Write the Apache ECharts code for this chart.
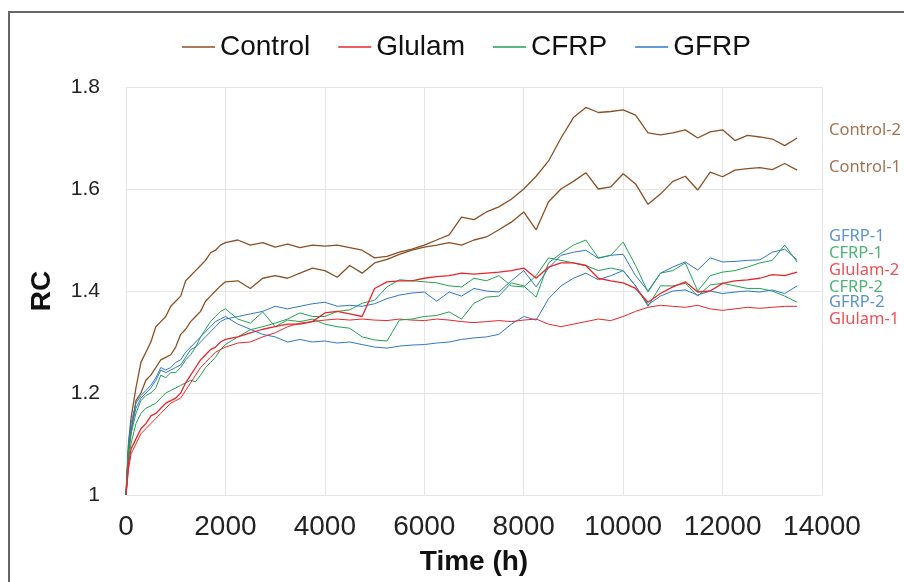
<!DOCTYPE html>
<html>
<head>
<meta charset="utf-8">
<script src="https://cdn.jsdelivr.net/npm/echarts@6/dist/echarts.min.js"></script>
<style>
  html, body { margin: 0; padding: 0; background: #fff; }
  #chart { width: 904px; height: 582px; }
</style>
</head>
<body>
<div id="chart"></div>
<script>
// time axis shared by all eight curves (h)
const hours = [0, 50, 100, 200, 300, 400, 500, 600, 700, 800, 900, 1000, 1100, 1200, 1300, 1400, 1500, 1600, 1700, 1800, 1900, 2000,
  2250, 2500, 2750, 3000, 3250, 3500, 3750, 4000, 4250, 4500, 4750, 5000,
  5250, 5500, 5750, 6000, 6250, 6500, 6750, 7000, 7250, 7500, 7750, 8000,
  8250, 8500, 8750, 9000, 9250, 9500, 9750, 10000, 10250, 10500, 10750, 11000,
  11250, 11500, 11750, 12000, 12250, 12500, 12750, 13000, 13250, 13500];

const control2 = [1.0, 1.10, 1.15, 1.21, 1.26, 1.28, 1.30, 1.33, 1.34, 1.35, 1.37, 1.38, 1.39, 1.42, 1.43, 1.44, 1.45, 1.46, 1.475, 1.48, 1.49, 1.495,
  1.50, 1.49, 1.495, 1.486, 1.492, 1.485, 1.49, 1.488, 1.49, 1.485, 1.48, 1.465,
  1.468, 1.476, 1.482, 1.49, 1.50, 1.51, 1.545, 1.54, 1.555, 1.565, 1.58, 1.60,
  1.625, 1.655, 1.70, 1.74, 1.76, 1.75, 1.752, 1.755, 1.745, 1.71, 1.706, 1.71,
  1.716, 1.70, 1.712, 1.716, 1.695, 1.705, 1.702, 1.698, 1.685, 1.70];
const control1 = [1.0, 1.08, 1.12, 1.185, 1.20, 1.225, 1.235, 1.25, 1.265, 1.27, 1.275, 1.29, 1.315, 1.325, 1.34, 1.35, 1.36, 1.38, 1.39, 1.40, 1.41, 1.418,
  1.42, 1.405, 1.425, 1.43, 1.425, 1.435, 1.445, 1.44, 1.427, 1.45, 1.435, 1.455,
  1.462, 1.472, 1.48, 1.486, 1.49, 1.495, 1.49, 1.50, 1.506, 1.52, 1.535, 1.555,
  1.52, 1.575, 1.60, 1.615, 1.632, 1.60, 1.604, 1.63, 1.61, 1.57, 1.59, 1.615,
  1.625, 1.598, 1.633, 1.624, 1.637, 1.64, 1.642, 1.638, 1.65, 1.637];
const gfrp1 = [1.0, 1.09, 1.13, 1.17, 1.19, 1.20, 1.21, 1.225, 1.245, 1.24, 1.245, 1.25, 1.255, 1.27, 1.285, 1.29, 1.30, 1.31, 1.32, 1.33, 1.34, 1.345,
  1.35, 1.355, 1.36, 1.37, 1.365, 1.37, 1.375, 1.378, 1.37, 1.372, 1.37, 1.375,
  1.385, 1.392, 1.396, 1.398, 1.38, 1.398, 1.39, 1.405, 1.40, 1.398, 1.42, 1.44,
  1.408, 1.445, 1.47, 1.476, 1.48, 1.464, 1.47, 1.472, 1.43, 1.40, 1.435, 1.447,
  1.457, 1.441, 1.465, 1.457, 1.458, 1.46, 1.461, 1.476, 1.482, 1.461];
const gfrp2 = [1.0, 1.10, 1.14, 1.18, 1.195, 1.205, 1.215, 1.23, 1.25, 1.245, 1.25, 1.26, 1.265, 1.28, 1.29, 1.30, 1.31, 1.32, 1.33, 1.34, 1.345, 1.35,
  1.335, 1.325, 1.315, 1.31, 1.30, 1.305, 1.30, 1.302, 1.298, 1.30, 1.295, 1.29,
  1.288, 1.292, 1.294, 1.295, 1.298, 1.30, 1.305, 1.308, 1.31, 1.315, 1.335, 1.35,
  1.343, 1.385, 1.41, 1.425, 1.435, 1.422, 1.43, 1.44, 1.41, 1.373, 1.39, 1.40,
  1.402, 1.392, 1.40, 1.395, 1.398, 1.40, 1.398, 1.402, 1.395, 1.41];
const cfrp1 = [1.0, 1.09, 1.12, 1.16, 1.185, 1.195, 1.20, 1.21, 1.235, 1.23, 1.24, 1.24, 1.25, 1.265, 1.275, 1.29, 1.31, 1.325, 1.34, 1.35, 1.36, 1.365,
  1.345, 1.337, 1.359, 1.33, 1.343, 1.34, 1.345, 1.335, 1.33, 1.327, 1.31, 1.304,
  1.302, 1.343, 1.345, 1.35, 1.352, 1.359, 1.345, 1.376, 1.388, 1.39, 1.416, 1.41,
  1.388, 1.455, 1.474, 1.49, 1.50, 1.465, 1.47, 1.496, 1.45, 1.398, 1.435, 1.44,
  1.455, 1.40, 1.43, 1.437, 1.44, 1.447, 1.455, 1.46, 1.49, 1.457];
const cfrp2 = [1.0, 1.07, 1.10, 1.14, 1.16, 1.17, 1.175, 1.18, 1.19, 1.20, 1.205, 1.21, 1.215, 1.22, 1.225, 1.222, 1.235, 1.25, 1.26, 1.27, 1.285, 1.295,
  1.31, 1.324, 1.33, 1.337, 1.345, 1.357, 1.35, 1.35, 1.36, 1.363, 1.376, 1.382,
  1.408, 1.422, 1.42, 1.418, 1.416, 1.41, 1.408, 1.425, 1.42, 1.43, 1.41, 1.408,
  1.43, 1.465, 1.46, 1.455, 1.45, 1.44, 1.445, 1.44, 1.41, 1.37, 1.41, 1.41,
  1.415, 1.39, 1.412, 1.415, 1.41, 1.405, 1.405, 1.40, 1.39, 1.378];
const glulam2 = [1.0, 1.06, 1.09, 1.11, 1.13, 1.14, 1.155, 1.16, 1.17, 1.18, 1.185, 1.19, 1.20, 1.22, 1.235, 1.25, 1.265, 1.275, 1.285, 1.29, 1.30, 1.305,
  1.31, 1.318, 1.325, 1.33, 1.335, 1.335, 1.34, 1.357, 1.36, 1.355, 1.35, 1.405,
  1.418, 1.42, 1.42, 1.425, 1.428, 1.43, 1.435, 1.433, 1.435, 1.437, 1.44, 1.445,
  1.425, 1.447, 1.455, 1.455, 1.45, 1.425, 1.42, 1.416, 1.405, 1.378, 1.395, 1.408,
  1.418, 1.398, 1.40, 1.415, 1.42, 1.422, 1.425, 1.432, 1.43, 1.437];
const glulam1 = [1.0, 1.05, 1.08, 1.10, 1.12, 1.13, 1.14, 1.15, 1.16, 1.17, 1.18, 1.185, 1.19, 1.205, 1.22, 1.235, 1.25, 1.26, 1.27, 1.28, 1.285, 1.29,
  1.298, 1.30, 1.31, 1.318, 1.33, 1.337, 1.34, 1.343, 1.345, 1.343, 1.345, 1.343,
  1.342, 1.345, 1.343, 1.342, 1.345, 1.343, 1.34, 1.338, 1.34, 1.342, 1.34, 1.343,
  1.345, 1.335, 1.33, 1.335, 1.34, 1.345, 1.342, 1.35, 1.36, 1.368, 1.372, 1.37,
  1.368, 1.372, 1.365, 1.362, 1.365, 1.368, 1.366, 1.368, 1.37, 1.37];

// right-hand curve labels and the RC level they sit at
const labelNames = ["Control-2", "Control-1", "GFRP-1", "CFRP-1", "Glulam-2", "CFRP-2", "GFRP-2", "Glulam-1"];
const labelLevels = [1.716, 1.643, 1.508, 1.474, 1.441, 1.408, 1.378, 1.344];
const groups = ["Control", "Glulam", "CFRP", "GFRP"];

const colors = { Control: "#8b5024", Glulam: "#e8262a", CFRP: "#22a152", GFRP: "#2f78c4" };
const groupOf = (name) => name.split("-")[0];
const pairs = (vals) => hours.map((h, i) => [h, vals[i]]);

const curves = [
  ["Control", control1, 1.3], ["Control", control2, 1.3],
  ["CFRP", cfrp2, 1], ["GFRP", gfrp2, 1], ["Glulam", glulam1, 1],
  ["GFRP", gfrp1, 1], ["CFRP", cfrp1, 1], ["Glulam", glulam2, 1.3],
];

const chart = echarts.init(document.getElementById("chart"));
chart.setOption({
  animation: false,
  backgroundColor: "#fff",
  textStyle: { fontFamily: "Liberation Sans, Arial, sans-serif" },
  graphic: [{
    type: "rect", silent: true,
    shape: { x: 9, y: 12, width: 1000, height: 1000 },
    style: { fill: "none", stroke: "#666", lineWidth: 2 },
  }],
  legend: {
    data: groups,
    left: 177, top: 28,
    icon: "rect", itemWidth: 33, itemHeight: 1.5, itemGap: 28,
    textStyle: { fontSize: 28, color: "#111" },
  },
  grid: { left: 126, right: 82, top: 87, bottom: 87 },
  xAxis: {
    type: "value", min: 0, max: 14000, interval: 2000,
    name: "Time (h)", nameLocation: "middle", nameGap: 53,
    nameTextStyle: { fontSize: 28, fontWeight: "bold", color: "#111" },
    axisLine: { show: false }, axisTick: { show: false },
    axisLabel: { fontSize: 28, color: "#222", margin: 18, formatter: (v) => String(v) },
    splitLine: { lineStyle: { color: "#e6e6e6" } },
  },
  yAxis: {
    type: "value", min: 1, max: 1.8, interval: 0.2,
    name: "RC", nameLocation: "middle", nameGap: 70,
    nameTextStyle: { fontSize: 28, fontWeight: "bold", color: "#111" },
    axisLine: { show: false }, axisTick: { show: false },
    axisLabel: { fontSize: 21, color: "#222", margin: 26 },
    splitLine: { lineStyle: { color: "#e6e6e6" } },
  },
  series: [
    ...curves.map(([name, vals, w]) => ({
      name, type: "line", data: pairs(vals), showSymbol: false, symbol: "none",
      color: colors[name], lineStyle: { width: w, color: colors[name] },
    })),
    {
      name: "labels", type: "scatter", symbolSize: 0, silent: true, clip: false,
      data: labelNames.map((n, i) => ({
        name: n, value: [14000, labelLevels[i]],
        label: { color: colors[groupOf(n)] },
      })),
      label: {
        show: true, position: "right", distance: 7, formatter: "{b}",
        fontSize: 16.5, fontFamily: "Noto Sans, sans-serif",
      },
    },
  ],
});
</script>
</body>
</html>
